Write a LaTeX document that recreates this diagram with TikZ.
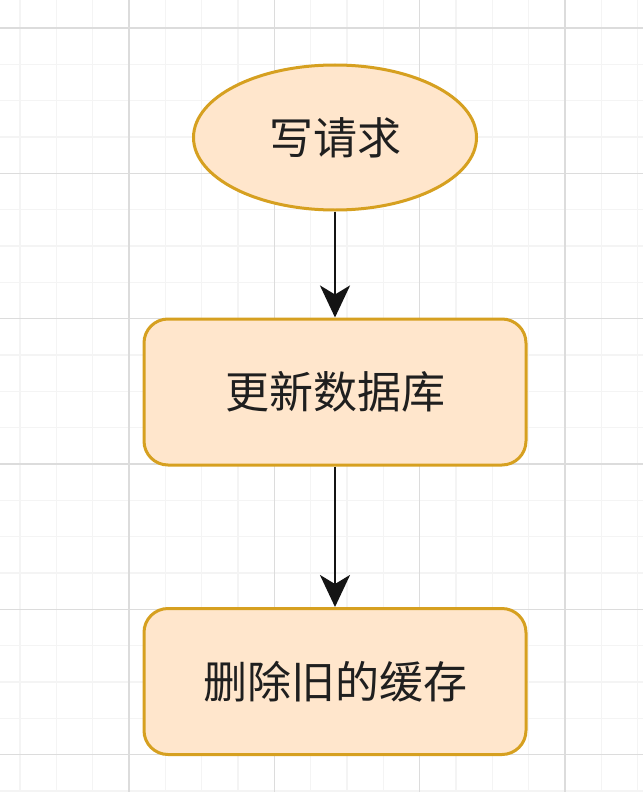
\documentclass[tikz,border=0pt]{standalone}
\usepackage{fontspec}
\newfontfamily\cjk{Noto Sans CJK SC}
\usetikzlibrary{shapes.geometric,arrows.meta}
\definecolor{boxfill}{HTML}{FFE6CC}
\definecolor{boxdraw}{HTML}{D6A020}
\definecolor{gridmajor}{HTML}{DCDCDC}
\definecolor{gridminor}{HTML}{F4F4F4}
\tikzset{
  flowtext/.style={font=\cjk\fontsize{44}{52}\selectfont, text=black!88},
  startnode/.style={ellipse, draw=boxdraw, fill=boxfill, line width=3pt,
    minimum width=283pt, minimum height=145pt, inner sep=0pt, flowtext},
  procbox/.style={rectangle, rounded corners=24pt, draw=boxdraw, fill=boxfill,
    line width=3pt, minimum width=382pt, minimum height=146pt, inner sep=0pt, flowtext},
  flowarrow/.style={line width=2.8pt, black!92,
    -{Stealth[width=30pt,length=32pt,inset=9pt]}}
}
\begin{document}
\begin{tikzpicture}[x=1pt,y=-1pt]
\useasboundingbox[fill=white] (0,0) rectangle (643,792);
% minor grid
\foreach \k in {-4,...,14} {
  \draw[gridminor, line width=1.2pt] ({129+36.33*\k},0) -- ({129+36.33*\k},792);
}
\foreach \k in {-1,...,21} {
  \draw[gridminor, line width=1.2pt] (0,{28+36.33*\k}) -- (643,{28+36.33*\k});
}
% major grid
\foreach \k in {-1,...,4} {
  \draw[gridmajor, line width=1.5pt] ({129+145.33*\k},0) -- ({129+145.33*\k},792);
}
\foreach \k in {0,...,5} {
  \draw[gridmajor, line width=1.5pt] (0,{28+145.33*\k}) -- (643,{28+145.33*\k});
}
\node[startnode] (req) at (335,137.5) {写请求};
\node[procbox] (db) at (335,392) {更新数据库};
\node[procbox] (cache) at (335,681.5) {删除旧的缓存};
\draw[flowarrow] (req) -- (db);
\draw[flowarrow] (db) -- (cache);
\end{tikzpicture}
\end{document}
